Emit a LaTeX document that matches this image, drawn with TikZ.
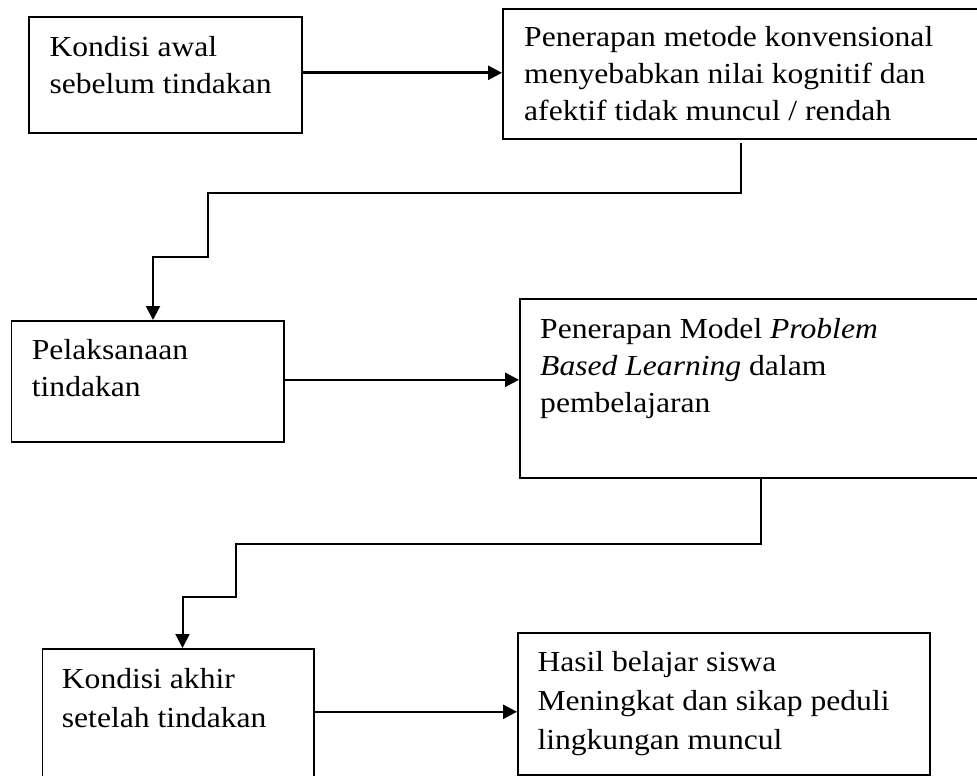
\documentclass[tikz,border=0pt]{standalone}
\usepackage{fontspec}
\setmainfont[FakeStretch=1.09]{Liberation Serif}
\usetikzlibrary{arrows.meta}
\begin{document}
\begin{tikzpicture}[x=1pt,y=-1pt,
  box/.style={draw, line width=1.6pt, inner sep=0pt, anchor=north west},
  txt/.style={anchor=north west, inner sep=0pt, align=left},
  fsa/.style={font=\fontsize{29}{37}\selectfont},
  fsb/.style={font=\fontsize{29}{39}\selectfont},
  harrow/.style={line width=2.6pt, -{Triangle[length=14pt,width=14pt]}},
  conn/.style={line width=2pt, -{Triangle[length=14pt,width=14pt]}}]
\useasboundingbox (0,0) rectangle (977,776);
% boxes
\node[box, minimum width=273pt, minimum height=116pt] (b1) at (28,16) {};
\node[box, minimum width=483pt, minimum height=130pt] (b2) at (502,8) {};
\node[box, minimum width=272.3pt, minimum height=121pt] (b3) at (10.7,320) {};
\node[box, minimum width=466pt, minimum height=179pt] (b4) at (519,298) {};
\node[box, minimum width=271.3pt, minimum height=137pt] (b5) at (41.7,648) {};
\node[box, minimum width=412pt, minimum height=142pt] (b6) at (517,632) {};
% texts
\node[txt, fsa] (t1) at (49.3,30.8) {\strut Kondisi awal\\sebelum tindakan};
\node[txt, fsa] (t2) at (524,20.1) {\strut Penerapan metode konvensional\\menyebabkan nilai kognitif dan\\afektif tidak muncul / rendah};
\node[txt, fsa] (t3) at (31.7,333.4) {\strut Pelaksanaan\\tindakan};
\node[txt, fsa] (t4) at (540,312.4) {\strut Penerapan Model \textit{Problem}\\\textit{Based Learning} dalam\\pembelajaran};
\node[txt, fsb] (t5) at (61.7,661) {\strut Kondisi akhir\\setelah tindakan};
\node[txt, fsb] (t6) at (537.3,643.7) {\strut Hasil belajar siswa\\Meningkat dan sikap peduli\\lingkungan muncul};
% horizontal arrows
\draw[harrow] ([yshift=2pt]b1.east) -- ([yshift=2pt]b1.east -| b2.west);
\draw[harrow] ([yshift=1.5pt]b3.east) -- ([yshift=1.5pt]b3.east -| b4.west);
\draw[harrow] ([yshift=5.5pt]b5.east) -- ([yshift=5.5pt]b5.east -| b6.west);
% stepped connectors
\coordinate (c2a) at (741,143);
\coordinate (c2b) at (153,257);
\draw[conn] (c2a) |- (207.5,193) |- (c2b) -- (c2b |- b3.north);
\coordinate (c4a) at (761,477);
\coordinate (c4b) at (182.5,597);
\draw[conn] (c4a) |- (236,544) |- (c4b) -- (c4b |- b5.north);
\end{tikzpicture}
\end{document}
